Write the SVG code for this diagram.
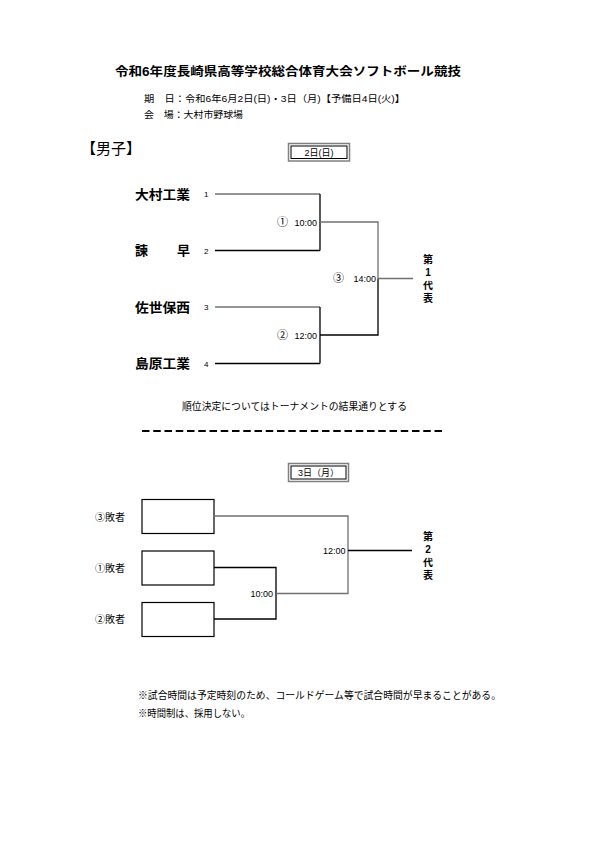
<svg xmlns="http://www.w3.org/2000/svg" width="595" height="842" viewBox="0 0 595 842">
<style>
text{font-family:"Liberation Sans","Noto Sans CJK JP",sans-serif;fill:#000}
.title{font-size:12px;font-weight:bold}
.info{font-size:9.5px}
.team{font-size:13px;font-weight:bold}
.num{font-size:8px}
.time{font-size:9px}
.circ{font-size:11px}
.rep{font-size:10px;font-weight:bold}
.note{font-size:10px}
.gl{stroke:#707070;stroke-width:1.3;fill:none}
.bl{stroke:#000;stroke-width:1.3;fill:none}
.box{stroke:#000;stroke-width:1.2;fill:#fff}
.dayo{stroke:#808080;stroke-width:1.5;fill:#fff}
.dayi{stroke:#000;stroke-width:1;fill:none}
</style>
<rect width="595" height="842" fill="#fff"/>
<g id="header">
<text class="title" x="115" y="76" textLength="346" lengthAdjust="spacingAndGlyphs">令和6年度長崎県高等学校総合体育大会ソフトボール競技</text>
<text class="info" x="144" y="101.5" textLength="261" lengthAdjust="spacingAndGlyphs">期　日：令和6年6月2日(日)・3日（月)【予備日4日(火)】</text>
<text class="info" x="144" y="117.5" textLength="99" lengthAdjust="spacingAndGlyphs">会　場：大村市野球場</text>
<text x="81" y="154" font-size="15" textLength="60" lengthAdjust="spacingAndGlyphs">【男子】</text>
</g>
<g id="day1">
<rect class="dayo" x="288.5" y="143.5" width="61" height="17.5"/>
<rect class="dayi" x="291" y="146" width="56" height="12.5"/>
<text class="time" x="319" y="155.5" text-anchor="middle">2日(日)</text>
</g>
<g id="team1"><text class="team" x="135" y="198.5" textLength="55" lengthAdjust="spacingAndGlyphs">大村工業</text><text class="num" x="204" y="197">1</text></g>
<g id="team2"><text class="team" x="135" y="255">諫</text><text class="team" x="190" y="255" text-anchor="end">早</text><text class="num" x="204" y="253.5">2</text></g>
<g id="team3"><text class="team" x="135" y="311.5" textLength="55" lengthAdjust="spacingAndGlyphs">佐世保西</text><text class="num" x="204" y="310">3</text></g>
<g id="team4"><text class="team" x="135" y="368" textLength="55" lengthAdjust="spacingAndGlyphs">島原工業</text><text class="num" x="204" y="366.5">4</text></g>
<g id="match1"><text class="circ" x="277" y="226">①</text><text class="time" x="317" y="225.5" text-anchor="end">10:00</text></g>
<g id="match2"><text class="circ" x="277" y="339">②</text><text class="time" x="317" y="338.5" text-anchor="end">12:00</text></g>
<g id="match3"><text class="circ" x="333" y="282">③</text><text class="time" x="376" y="281.5" text-anchor="end">14:00</text></g>
<g id="rep1">
<text class="rep" text-anchor="middle"><tspan x="428" y="263">第</tspan><tspan x="428" y="276">1</tspan><tspan x="428" y="289">代</tspan><tspan x="428" y="302">表</tspan></text>
</g>
<g id="connectors-day1">
<path class="gl" d="M215 194H320"/>
<path class="bl" d="M215 250.5H320M320 194V250.5"/>
<path class="gl" d="M320 222H378V278.5"/>
<path class="gl" d="M215 307H320"/>
<path class="bl" d="M215 363.5H320M320 307V363.5M320 335H378V278.5"/>
<path class="gl" d="M378 278.5H413"/>
</g>
<g id="note1"><text class="note" x="182" y="409.5" textLength="225" lengthAdjust="spacingAndGlyphs">順位決定についてはトーナメントの結果通りとする</text></g>
<g id="separator"><path d="M142 431H445" stroke="#000" stroke-width="2" stroke-dasharray="7.5 3.75"/></g>
<g id="day2">
<rect class="dayo" x="288.5" y="463.5" width="60" height="18"/>
<rect class="dayi" x="291" y="466" width="55" height="13"/>
<text class="time" x="318.5" y="476" text-anchor="middle">3日（月）</text>
</g>
<g id="slot1"><text class="note" x="95" y="520.5" fill="#333">③敗者</text><rect class="box" x="142" y="499.5" width="72" height="34"/></g>
<g id="slot2"><text class="note" x="95" y="571.5">①敗者</text><rect class="box" x="142" y="551" width="72" height="34"/></g>
<g id="slot3"><text class="note" x="95" y="622.5">②敗者</text><rect class="box" x="142" y="602.5" width="72" height="34"/></g>
<g id="m21"><text class="time" x="273" y="596.5" text-anchor="end">10:00</text></g>
<g id="m22"><text class="time" x="345.5" y="553.5" text-anchor="end">12:00</text></g>
<g id="rep2">
<text class="rep" text-anchor="middle"><tspan x="428" y="540">第</tspan><tspan x="428" y="553">2</tspan><tspan x="428" y="566">代</tspan><tspan x="428" y="579">表</tspan></text>
</g>
<g id="connectors-day2">
<path class="gl" d="M214 516H348V550.5"/>
<path class="bl" d="M214 567.5H276V619H214"/>
<path class="gl" d="M276 593.5H348V550.5"/>
<path class="bl" d="M348 550.5H412"/>
</g>
<g id="footer">
<text class="note" x="138" y="698.5" textLength="363" lengthAdjust="spacingAndGlyphs">※試合時間は予定時刻のため、コールドゲーム等で試合時間が早まることがある。</text>
<text class="note" x="138" y="717" textLength="112" lengthAdjust="spacingAndGlyphs">※時間制は、採用しない。</text>
</g>
</svg>
